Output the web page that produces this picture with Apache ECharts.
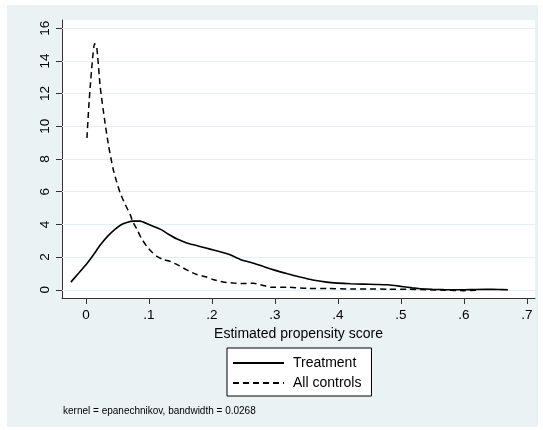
<!DOCTYPE html>
<html>
<head>
<meta charset="utf-8">
<script src="https://cdn.jsdelivr.net/npm/echarts@6/dist/echarts.min.js"></script>
<style>
  html, body { margin: 0; padding: 0; background: #fff; }
  #bg { position: absolute; left: 7px; top: 5px; width: 531px; height: 422px; background: #eaf2f3; }
  #main { position: absolute; left: 0; top: 0; width: 543px; height: 430px; }
</style>
</head>
<body>
<div id="bg"></div>
<div id="main"></div>
<script>
// kernel density values
var treatX = [-0.024, -0.012, 0.002, 0.012, 0.023, 0.035, 0.047, 0.056, 0.065, 0.075, 0.086, 0.1,
  0.118, 0.131, 0.144, 0.158, 0.171, 0.184, 0.197, 0.213, 0.229, 0.245, 0.261, 0.28, 0.298, 0.32,
  0.34, 0.36, 0.382, 0.4, 0.42, 0.44, 0.46, 0.478, 0.49, 0.504, 0.518, 0.531, 0.55, 0.568, 0.59,
  0.61, 0.636, 0.655, 0.67]
var treatY = [0.47, 1.0, 1.63, 2.15, 2.75, 3.3, 3.73, 3.98, 4.12, 4.2, 4.2, 4.0,
  3.71, 3.4, 3.12, 2.9, 2.75, 2.62, 2.49, 2.33, 2.14, 1.86, 1.69, 1.45, 1.22, 0.98,
  0.78, 0.6, 0.47, 0.41, 0.37, 0.35, 0.33, 0.31, 0.26, 0.19, 0.12, 0.07, 0.03, 0.01, 0.0,
  0.01, 0.03, 0.02, 0.0]

var ctrlX = [0.0016, 0.0045, 0.0068, 0.01, 0.0137, 0.017, 0.0227, 0.0296, 0.036, 0.0428, 0.048,
  0.0544, 0.062, 0.0703, 0.074, 0.081, 0.088, 0.0968, 0.105, 0.1127, 0.123, 0.134, 0.147, 0.16,
  0.175, 0.192, 0.2026, 0.218, 0.234, 0.25, 0.266, 0.28, 0.293, 0.319, 0.351, 0.383, 0.42, 0.451,
  0.48, 0.51, 0.54, 0.57, 0.6, 0.62]
var ctrlY = [9.28, 11.2, 12.4, 13.9, 15.05, 14.9, 12.4, 10.4, 8.8, 7.45, 6.7,
  5.92, 5.25, 4.6, 4.2, 3.7, 3.15, 2.65, 2.3, 2.04, 1.85, 1.73, 1.5, 1.22,
  0.95, 0.78, 0.62, 0.48, 0.41, 0.38, 0.4, 0.28, 0.16, 0.16, 0.09, 0.08, 0.05, 0.05,
  0.04, 0.03, 0.01, -0.02, -0.05, -0.02]

var xTicks = [0, 0.1, 0.2, 0.3, 0.4, 0.5, 0.6, 0.7]
var xTickLabels = ['0', '.1', '.2', '.3', '.4', '.5', '.6', '.7']
var yTicks = [0, 2, 4, 6, 8, 10, 12, 14, 16]

var seriesNames = ['Treatment', 'All controls']
var note = 'kernel = epanechnikov, bandwidth = 0.0268'

function zip(xs, ys) {
  return xs.map(function (x, i) { return [x, ys[i]] })
}

var font = 'Liberation Sans, Arial, sans-serif'

var option = {
  animation: false,
  textStyle: { fontFamily: font },
  grid: {
    left: 62, right: 8, top: 20, bottom: 132,
    show: true, backgroundColor: '#fff', borderWidth: 0
  },
  legend: {
    data: seriesNames,
    orient: 'vertical',
    left: 227, top: 348,
    backgroundColor: '#fff',
    borderColor: '#000',
    borderWidth: 1,
    borderRadius: 0,
    padding: [8, 10, 6, 5],
    itemWidth: 51,
    itemHeight: 14,
    itemGap: 6,
    // hide the marker dot, keep the line sample
    itemStyle: { color: 'rgba(0,0,0,0)', borderColor: 'rgba(0,0,0,0)', borderWidth: 0 },
    textStyle: { fontSize: 14, color: '#000', fontFamily: font, padding: [0, 0, 0, 4] }
  },
  graphic: [{
    type: 'text', left: 63, top: 406,
    style: { text: note, fontSize: 10, fill: '#000', fontFamily: font }
  }],
  xAxis: {
    type: 'value',
    min: -0.038, max: 0.713,
    name: 'Estimated propensity score',
    nameLocation: 'middle',
    nameGap: 25,
    nameTextStyle: { fontSize: 14, color: '#000', fontFamily: font },
    axisLine: { onZero: false, lineStyle: { color: '#333', width: 1 } },
    axisTick: { show: true, length: 6, customValues: xTicks, lineStyle: { color: '#333' } },
    axisLabel: {
      customValues: xTicks, margin: 10, fontSize: 13.5, color: '#000',
      formatter: function (v) { return xTickLabels[xTicks.indexOf(Math.round(v * 10) / 10)] }
    },
    splitLine: { show: false }
  },
  yAxis: {
    type: 'value',
    min: -0.5, max: 16.5,
    axisLine: { show: true, onZero: false, lineStyle: { color: '#333', width: 1 } },
    axisTick: { show: true, length: 6, customValues: yTicks, lineStyle: { color: '#333' } },
    axisLabel: { customValues: yTicks, rotate: 90, margin: 10, fontSize: 13.5, color: '#000' },
    splitLine: { show: false }
  },
  series: [
    {
      name: seriesNames[0],
      type: 'line',
      data: zip(treatX, treatY),
      symbol: 'none',
      smooth: 0.2,
      z: 3,
      lineStyle: { color: '#000', width: 1.6, type: 'solid' },
      itemStyle: { color: '#000' },
      markLine: {
        silent: true,
        symbol: 'none',
        label: { show: false },
        z: 1,
        lineStyle: { color: '#e6eff1', width: 1, type: 'solid' },
        data: yTicks.map(function (v) { return { yAxis: v } })
      }
    },
    {
      name: seriesNames[1],
      type: 'line',
      data: zip(ctrlX, ctrlY),
      symbol: 'none',
      smooth: 0.2,
      z: 3,
      lineStyle: { color: '#000', width: 1.5, type: [6, 4] },
      itemStyle: { color: '#000' }
    }
  ]
}

var myChart = echarts.init(document.getElementById('main'))
myChart.setOption(option)
</script>
</body>
</html>
